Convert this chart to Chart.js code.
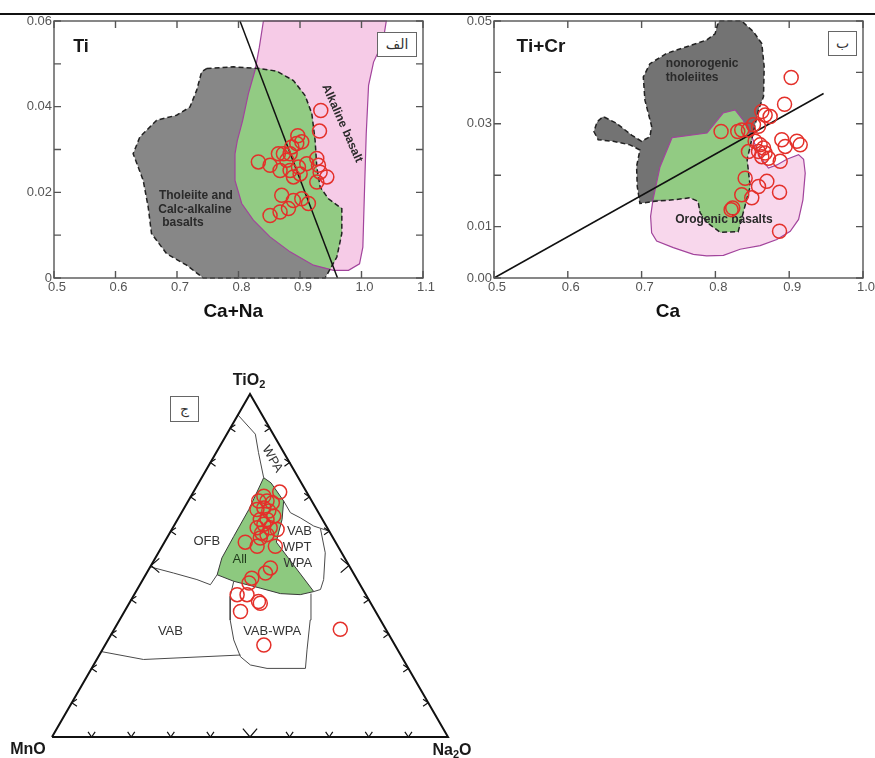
<!DOCTYPE html>
<html>
<head>
<meta charset="utf-8">
<script src="https://cdn.jsdelivr.net/npm/chart.js@4/dist/chart.umd.min.js"></script>
<style>
body { margin:0; background:#fff; }
#page { position:relative; width:875px; height:758px; overflow:hidden; font-family:"Liberation Sans", Arial, sans-serif; }
canvas { position:absolute; }
.lbl { position:absolute; transform:translate(-50%,-50%); white-space:nowrap; color:#1a1a1a; font-weight:bold; }
.lbl sub { font-size:11px; vertical-align:-3px; line-height:0; }
.box { position:absolute; border:1px solid #666; background:#fff; font-family:"DejaVu Sans", sans-serif; font-size:14px; color:#333; text-align:center; direction:rtl; box-sizing:border-box; }
</style>
</head>
<body>
<div id="page">
  <div style="position:absolute;left:0;top:13px;width:875px;height:2px;background:#111"></div>
  <canvas id="c1" width="440" height="323" style="left:0;top:0"></canvas>
  <canvas id="c2" width="435" height="323" style="left:440px;top:0"></canvas>
  <canvas id="c3" width="460" height="438" style="left:0;top:320px"></canvas>

  <div class="lbl" style="left:81px;top:46px;font-size:18px">Ti</div>
  <div class="lbl" style="left:541px;top:46px;font-size:19px">Ti+Cr</div>
  <div class="box" style="left:377px;top:32px;width:40px;height:25px;line-height:23px">الف</div>
  <div class="box" style="left:828px;top:31px;width:29px;height:25px;line-height:23px">ب</div>
  <div class="box" style="left:170px;top:396px;width:29px;height:26px;line-height:24px">ج</div>

  <div class="lbl" style="left:249px;top:380px;font-size:16px">TiO<sub>2</sub></div>
  <div class="lbl" style="left:28px;top:749px;font-size:16px">MnO</div>
  <div class="lbl" style="left:452px;top:750px;font-size:16px">Na<sub>2</sub>O</div>
</div>

<script>
// ---- diagram 1 : Ti vs Ca+Na ----
var caNa = [0.9338,0.9317,0.8964,0.9029,0.8947,0.8867,0.8323,0.8513,0.8649,0.873,0.8839,0.8785,0.8676,0.8839,0.8893,0.8975,0.911,0.9273,0.93,0.9327,0.9436,0.9273,0.9002,0.8703,0.8893,0.9137,0.8812,0.8676,0.8513,0.9029];
var ti   = [0.0391,0.0343,0.0332,0.0318,0.0314,0.0306,0.0271,0.0263,0.029,0.029,0.029,0.0275,0.0251,0.0251,0.0236,0.0259,0.0267,0.0279,0.0263,0.0247,0.0236,0.0224,0.0243,0.0193,0.0181,0.0174,0.0162,0.0154,0.0146,0.0185];
var xTicks1 = [0.5,0.6,0.7,0.8,0.9,1.0,1.1];
var xText1  = ['0.5','0.6','0.7','0.8','0.9','1.0','1.1'];
var yTicks1 = [0,0.01,0.02,0.03,0.04,0.05,0.06];
var yText1  = ['0','','0.02','','0.04','','0.06'];
var divide1 = [[0.8024,0.06],[0.961,0]];
// fields (x = Ca+Na, y = Ti)
var tholField = [[0.7481,0.0489],[0.7916,0.0493],[0.835,0.0489],[0.8622,0.0483],[0.8893,0.0461],[0.9083,0.0426],[0.9192,0.0384],[0.9246,0.0321],[0.9273,0.0259],[0.9328,0.0212],[0.9463,0.0185],[0.968,0.0162],[0.968,0.0104],[0.9599,0.0049],[0.9409,0],[0.7427,0],[0.7156,0.003],[0.683,0.0057],[0.6585,0.0104],[0.6531,0.0166],[0.645,0.0228],[0.6287,0.029],[0.6395,0.0329],[0.6667,0.0368],[0.6993,0.038],[0.721,0.0399],[0.7319,0.0438],[0.74,0.0481]];
var alkField = [[0.8405,0.06],[0.8339,0.0539],[0.8269,0.0485],[0.816,0.043],[0.8068,0.0368],[0.7981,0.0321],[0.7943,0.029],[0.7943,0.0228],[0.8052,0.0174],[0.8242,0.0135],[0.8513,0.0096],[0.8839,0.0061],[0.9219,0.003],[0.9545,0.0018],[0.9789,0.0018],[0.9968,0.0033],[1.0022,0.0072],[1.0044,0.0181],[1.0077,0.0337],[1.0115,0.045],[1.0196,0.0504],[1.0348,0.0551],[1.0403,0.06]];
var overlap1 = [[0.829,0.0489],[0.835,0.0489],[0.8622,0.0483],[0.8893,0.0461],[0.9083,0.0426],[0.9192,0.0384],[0.9246,0.0321],[0.9273,0.0259],[0.9328,0.0212],[0.9463,0.0185],[0.968,0.0162],[0.968,0.0104],[0.9599,0.0049],[0.9494,0.0021],[0.9219,0.003],[0.8839,0.0061],[0.8513,0.0096],[0.8242,0.0135],[0.8052,0.0174],[0.7943,0.0228],[0.7943,0.029],[0.7981,0.0321],[0.8068,0.0368],[0.816,0.043],[0.8269,0.0485]];

// ---- diagram 2 : Ti+Cr vs Ca ----
var ca   = [0.9027,0.8937,0.8629,0.8674,0.8742,0.8516,0.8584,0.8077,0.8303,0.8357,0.8448,0.8538,0.8606,0.8652,0.8584,0.8674,0.8629,0.8719,0.8448,0.89,0.8946,0.9104,0.9149,0.8878,0.8403,0.8697,0.8584,0.8869,0.8357,0.8493,0.8235,0.8213,0.8869];
var tiCr = [0.039,0.0338,0.0324,0.0317,0.0314,0.0298,0.0295,0.0285,0.0285,0.0288,0.0288,0.0266,0.0259,0.0253,0.0246,0.0243,0.0236,0.0233,0.0246,0.0269,0.0256,0.0266,0.0259,0.0227,0.0194,0.0188,0.0178,0.0167,0.0162,0.0156,0.0136,0.0133,0.0091];
var xTicks2 = [0.5,0.6,0.7,0.8,0.9,1.0];
var xText2  = ['0.5','0.6','0.7','0.8','0.9','1.0'];
var yTicks2 = [0,0.01,0.02,0.03,0.04,0.05];
var yText2  = ['0.00','0.01','','0.03','','0.05'];
var divide2 = [[0.5,0],[0.9466,0.0359]];
var nonoroField = [[0.8054,0.05],[0.8357,0.05],[0.8516,0.0479],[0.8629,0.0456],[0.8661,0.0411],[0.8652,0.0353],[0.8584,0.0327],[0.843,0.023],[0.8471,0.0178],[0.8308,0.009],[0.8063,0.0089],[0.7887,0.0108],[0.7792,0.0127],[0.7765,0.0149],[0.7656,0.0156],[0.7425,0.0152],[0.7154,0.0149],[0.6977,0.0145],[0.6941,0.0178],[0.6932,0.0217],[0.6977,0.0249],[0.6842,0.0259],[0.6615,0.0266],[0.6412,0.0269],[0.6353,0.0285],[0.6398,0.0304],[0.648,0.0314],[0.6661,0.0301],[0.6864,0.0278],[0.7,0.0266],[0.7113,0.0275],[0.7136,0.0295],[0.7045,0.0346],[0.7023,0.0391],[0.7113,0.0417],[0.7339,0.0437],[0.7611,0.045],[0.7882,0.0463],[0.7995,0.0475],[0.8027,0.0492]];
var oroField = [[0.7412,0.0273],[0.7887,0.0282],[0.8104,0.0321],[0.8267,0.0327],[0.8376,0.0307],[0.8493,0.0275],[0.8606,0.0236],[0.8719,0.0214],[0.8833,0.022],[0.8968,0.0231],[0.9127,0.024],[0.9195,0.0231],[0.9217,0.0204],[0.9186,0.0152],[0.9127,0.0114],[0.9014,0.0091],[0.8833,0.0075],[0.8606,0.0063],[0.8335,0.0056],[0.8109,0.0044],[0.7882,0.0043],[0.7701,0.0046],[0.743,0.0059],[0.7204,0.0072],[0.7136,0.0088],[0.7122,0.012],[0.7154,0.0152],[0.7249,0.0216]];
var overlap2 = [[0.7412,0.0273],[0.7887,0.0282],[0.8104,0.0321],[0.8267,0.0327],[0.8376,0.0307],[0.849,0.0274],[0.843,0.023],[0.8471,0.0178],[0.8308,0.009],[0.8063,0.0089],[0.7887,0.0108],[0.7792,0.0127],[0.7765,0.0149],[0.7656,0.0156],[0.7425,0.0152],[0.7154,0.0152],[0.7249,0.0216]];

// ---- diagram 3 : TiO2 - MnO - Na2O ternary, values as [TiO2, Na2O] in %, MnO = rest ----
var tio2 = [71.4,70.2,68.8,68.8,68.3,66.8,66.3,65.9,64.4,63.4,63.4,62.0,61.0,61.0,60.5,59.5,59.0,58.0,56.8,55.6,55.6,49.3,47.8,46.3,44.9,41.5,41.5,39.5,39.0,36.6,26.8,31.4];
var na2o = [21.8,18.4,17.8,19.9,21.5,20.1,18.6,21.8,23.8,20.9,22.6,22.5,21.3,24.6,26.6,23.2,24.8,23.6,20.4,24.0,28.6,30.5,30.0,27.3,27.3,26.0,28.5,32.4,33.1,29.3,40.1,57.1];
var ternTicks = [10,20,30,40,60,70,80,90];
var ternMid = [50];
var allField = [[75.6,15.65],[74.1,18.25],[68.8,24.1],[63.4,26.4],[59.5,27.45],[56.8,28.25],[42.4,44.9],[41.5,41.95],[41.8,36.8],[43.4,30.9],[45.4,23.2],[47.3,18.05],[52.2,16.8],[58.5,16.65],[66.3,16.55],[75.6,15.65]];
var wpaLine = [[93.9,0],[88.3,7.2],[82.9,10.7],[75.6,15.65]];
var vabWptLine = [[68.8,24.1],[65.4,27.5],[63.9,30.75],[61.5,35.35],[60.0,40.0]];
var wptRight = [[60.7,37.45],[53.7,42.15],[45.9,45.65],[43.0,46.3],[42.4,44.9]];
var ofbLine = [[49.6,0],[47.8,6.8],[45.9,13.65],[44.4,17.8],[47.3,18.05]];
var vabWpaLine = [[45.4,23.2],[41.0,24.5],[34.1,27.95],[28.3,31.75],[23.4,35.9],[21.0,39.6],[20.0,44.3],[20.0,54.0],[25.4,51.7],[34.1,48.15],[41.8,44.5]];
var vabLine = [[24.9,0],[22.6,11.8],[23.9,35.65]];

Chart.defaults.font.family = '"Liberation Sans", Arial, sans-serif';
Chart.defaults.animation = false;

var NOTE = 'bold 12px "Liberation Sans", Arial, sans-serif';
var PLAIN = '13px "Liberation Sans", Arial, sans-serif';

function pts(arr) { return arr.map(function(p) { return {x: p[0], y: p[1]}; }); }
function closed(arr) { return arr.concat([arr[0]]); }
function tern(p) { return {x: p[1] + p[0] / 2, y: p[0] * 0.866}; } // 0..100 along base, height 86.6

function fillSet(data, color, order) {
  return {data: data, showLine: true, fill: 'shape', backgroundColor: color, borderColor: 'rgba(0,0,0,0)', borderWidth: 0, pointRadius: 0, order: order};
}
function lineSet(data, color, width, dash, order) {
  return {data: data, showLine: true, fill: false, borderColor: color, borderWidth: width, borderDash: dash || [], pointRadius: 0, order: order, clip: false};
}
function sampleSet(data) {
  return {label: 'samples', data: data, pointRadius: 7, pointBorderWidth: 1.5, pointBorderColor: '#e4302a', pointBackgroundColor: 'rgba(0,0,0,0)', order: 0};
}

// frame + small ticks pointing inside, on all 4 sides
var frame = {
  id: 'frame',
  afterDraw: function(chart) {
    var ctx = chart.ctx, a = chart.chartArea, x = chart.scales.x, y = chart.scales.y;
    ctx.save();
    ctx.strokeStyle = '#555'; ctx.lineWidth = 1.4;
    ctx.beginPath();
    x.ticks.forEach(function(t) {
      var px = x.getPixelForValue(t.value);
      ctx.moveTo(px, a.top); ctx.lineTo(px, a.top + 7);
      ctx.moveTo(px, a.bottom); ctx.lineTo(px, a.bottom - 7);
    });
    y.ticks.forEach(function(t) {
      var py = y.getPixelForValue(t.value);
      ctx.moveTo(a.left, py); ctx.lineTo(a.left + 7, py);
      ctx.moveTo(a.right, py); ctx.lineTo(a.right - 7, py);
    });
    ctx.stroke();
    ctx.strokeRect(a.left, a.top, a.width, a.height);
    ctx.restore();
  }
};

// field names, drawn just before the sample circles so the circles sit on top
function notesPlugin(items) {
  return {
    id: 'notes',
    beforeDatasetDraw: function(chart, args) {
      if (chart.data.datasets[args.index].label !== 'samples') return;
      var ctx = chart.ctx, sx = chart.scales.x, sy = chart.scales.y;
      items.forEach(function(n) {
        ctx.save();
        ctx.translate(sx.getPixelForValue(n.x), sy.getPixelForValue(n.y));
        if (n.rot) ctx.rotate(n.rot * Math.PI / 180);
        ctx.font = n.font || NOTE;
        ctx.fillStyle = n.color || '#2a2a2a';
        ctx.textAlign = n.align || 'center';
        ctx.textBaseline = 'middle';
        ctx.fillText(n.text, 0, 0);
        ctx.restore();
      });
    }
  };
}

function xyScales(xTicks, xText, yTicks, yText, title) {
  return {
    x: {
      type: 'linear', min: xTicks[0], max: xTicks[xTicks.length - 1],
      afterBuildTicks: function(s) { s.ticks = xTicks.map(function(v) { return {value: v}; }); },
      afterFit: function(s) { s.height = 45; },
      grid: {display: false, drawTicks: false}, border: {display: false},
      ticks: {color: '#555', font: {size: 13}, padding: 2, labelOffset: 3, maxRotation: 0, autoSkip: false,
        callback: function(v, i) { return xText[i]; }},
      title: {display: true, text: title, color: '#111', font: {size: 19, weight: 'bold'}, padding: 0}
    },
    y: {
      type: 'linear', min: yTicks[0], max: yTicks[yTicks.length - 1],
      afterBuildTicks: function(s) { s.ticks = yTicks.map(function(v) { return {value: v}; }); },
      afterFit: function(s) { s.width = 54; },
      grid: {display: false, drawTicks: false}, border: {display: false},
      ticks: {color: '#555', font: {size: 13}, padding: 2, autoSkip: false,
        callback: function(v, i) { return yText[i]; }}
    }
  };
}

function baseOptions(scales, pad) {
  return {
    responsive: false, events: [],
    layout: {padding: pad},
    scales: scales,
    plugins: {legend: {display: false}, tooltip: {enabled: false}}
  };
}

// diagram 1
var notes1 = [
  {text: 'Tholeiite and', x: 0.7308, y: 0.0193},
  {text: 'Calc-alkaline', x: 0.7292, y: 0.016},
  {text: 'basalts', x: 0.7096, y: 0.0128},
  {text: 'Alkaline basalt', x: 0.9686, y: 0.0361, rot: 66}
];
new Chart(document.getElementById('c1'), {
  type: 'scatter',
  data: {datasets: [
    sampleSet(caNa.map(function(v, i) { return {x: v, y: ti[i]}; })),
    lineSet(pts(divide1), '#111', 1.5, null, 1),
    lineSet(pts(closed(tholField)), '#222', 1.5, [5, 3], 2),
    lineSet(pts(closed(alkField)), '#a2449c', 1.2, null, 3),
    fillSet(pts(overlap1), '#92cb83', 4),
    fillSet(pts(tholField), '#878787', 5),
    fillSet(pts(alkField), '#f6cbe7', 6)
  ]},
  options: baseOptions(xyScales(xTicks1, xText1, yTicks1, yText1, 'Ca+Na  '), {left: 0, right: 17, top: 21, bottom: 0}),
  plugins: [frame, notesPlugin(notes1)]
});

// diagram 2
var notes2 = [
  {text: 'nonorogenic', x: 0.7328, y: 0.0416, align: 'left'},
  {text: 'tholeiites', x: 0.7328, y: 0.0389, align: 'left'},
  {text: 'Orogenic basalts', x: 0.8115, y: 0.0114}
];
new Chart(document.getElementById('c2'), {
  type: 'scatter',
  data: {datasets: [
    sampleSet(ca.map(function(v, i) { return {x: v, y: tiCr[i]}; })),
    lineSet(pts(divide2), '#111', 1.5, null, 1),
    lineSet(pts(closed(nonoroField)), '#222', 1.5, [5, 3], 2),
    lineSet(pts(closed(oroField)), '#a2449c', 1.2, null, 3),
    fillSet(pts(overlap2), '#92cb83', 4),
    fillSet(pts(nonoroField), '#737373', 5),
    fillSet(pts(oroField), '#f8d7ec', 6)
  ]},
  options: baseOptions(xyScales(xTicks2, xText2, yTicks2, yText2, 'Ca    '), {left: 0, right: 12, top: 21, bottom: 0}),
  plugins: [frame, notesPlugin(notes2)]
});

// diagram 3 (ternary)
// chevron marks on the sides: vertex on the side, opening along d, spread along q (ternary units)
function chevrons(list, side, w, h) {
  var out = [];
  list.forEach(function(v) {
    var p, d, q;
    if (side === 'bottom') { p = tern([0, v]); d = {x: 0, y: 1}; q = {x: 1, y: 0}; }
    else if (side === 'left') { p = tern([v, 0]); d = {x: 1, y: 0}; q = {x: 0, y: 1}; }
    else { p = tern([v, 100 - v]); d = {x: -1, y: 0}; q = {x: 0, y: 1}; }
    out.push({x: p.x + h * d.x + w * q.x, y: p.y + h * d.y + w * q.y}, p,
             {x: p.x + h * d.x - w * q.x, y: p.y + h * d.y - w * q.y}, {x: null, y: null});
  });
  return out;
}
function chevronSets(list, w, h) {
  return ['bottom', 'left', 'right'].map(function(side) {
    return lineSet(chevrons(list, side, w, h), '#111', 1.2, null, 1);
  });
}
function ternLine(arr) { return lineSet(arr.map(tern), '#4a4a4a', 1, null, 3); }

var notes3 = [
  {text: 'WPA', at: [81.0, 15.1], rot: 60},
  {text: 'OFB', at: [57.1, 10.55]},
  {text: 'All', at: [51.7, 21.55], color: '#1f3a1a'},
  {text: 'VAB', at: [60.0, 32.5]},
  {text: 'WPT', at: [55.3, 34.25]},
  {text: 'WPA', at: [50.7, 36.75]},
  {text: 'VAB', at: [30.7, 14.55]},
  {text: 'VAB-WPA', at: [30.7, 40.25]}
].map(function(n) {
  var p = tern(n.at);
  return {text: n.text, x: p.x, y: p.y, rot: n.rot, color: n.color || '#333', font: PLAIN};
});

var ternDatasets = [sampleSet(tio2.map(function(v, i) { return tern([v, na2o[i]]); }))]
  .concat(chevronSets(ternTicks, 0.9, 1.3))
  .concat(chevronSets(ternMid, 1.8, 2.1))
  .concat([
    lineSet(closed([[0, 0], [100, 0], [0, 100]]).map(tern), '#111', 2, null, 2),
    ternLine(wpaLine), ternLine(vabWptLine), ternLine(wptRight), ternLine(ofbLine), ternLine(vabWpaLine), ternLine(vabLine),
    {data: allField.map(tern), showLine: true, fill: 'shape', backgroundColor: '#8dc97f', borderColor: '#3a3a3a', borderWidth: 1, pointRadius: 0, order: 4}
  ]);

new Chart(document.getElementById('c3'), {
  type: 'scatter',
  data: {datasets: ternDatasets},
  options: baseOptions({
    x: {type: 'linear', min: 0, max: 100, display: false},
    y: {type: 'linear', min: 0, max: 86.6, display: false}
  }, {left: 52, right: 12, top: 74, bottom: 21}),
  plugins: [notesPlugin(notes3)]
});
</script>
</body>
</html>
